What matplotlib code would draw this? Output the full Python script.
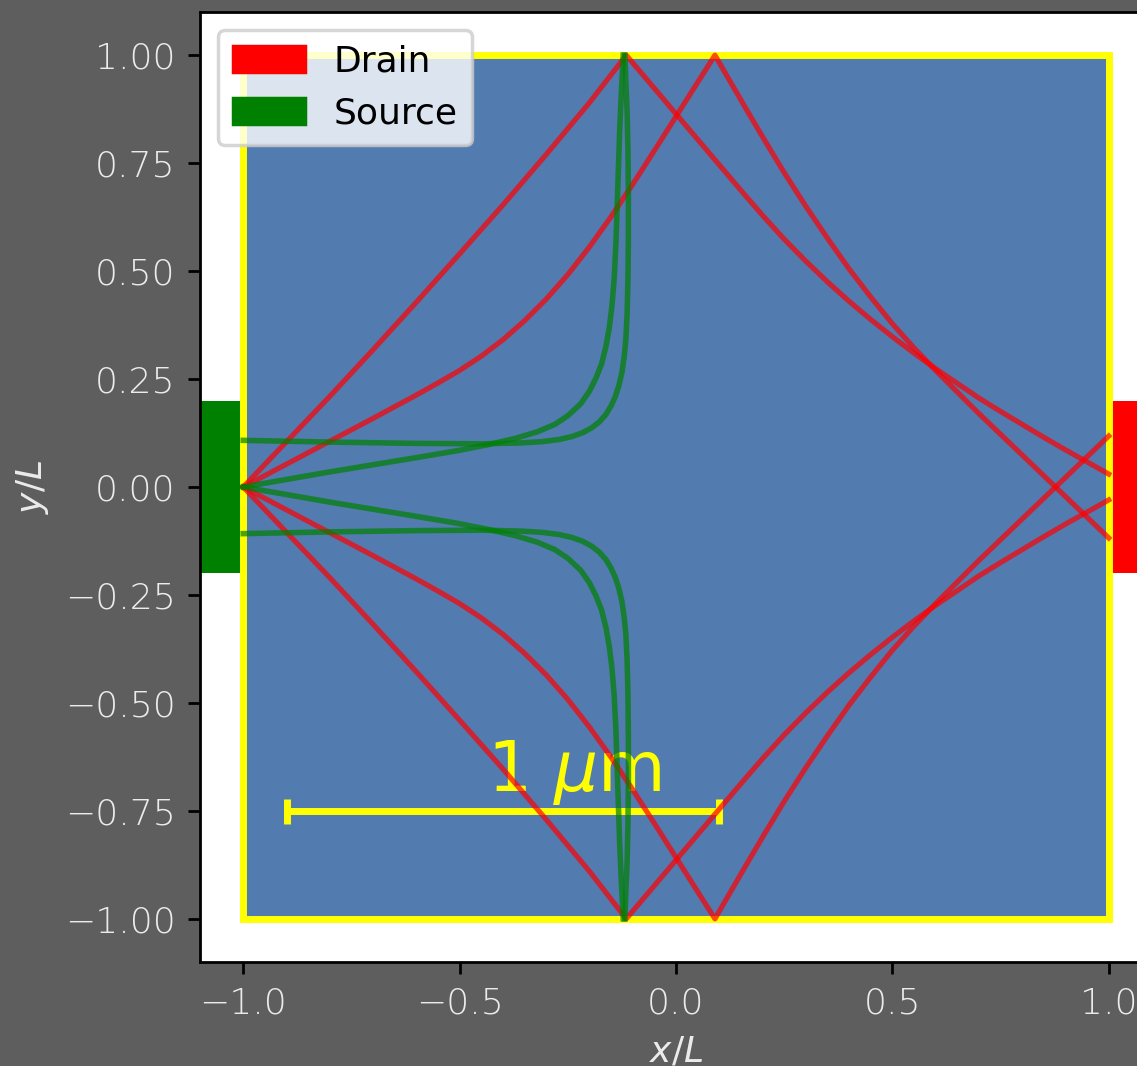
import matplotlib
matplotlib.use("Agg")
import matplotlib.pyplot as plt
from matplotlib.patches import Rectangle, Patch

# ---- trajectories (x/L, y/L) ----
# drain-side (red) orbit A: injected at (-1, 0), bounces once off the edge
red_a_up_x = [-1.0, -0.9, -0.8, -0.7, -0.6, -0.5, -0.4, -0.3, -0.2, -0.115,
              -0.06, 0.0, 0.05, 0.10, 0.15, 0.20, 0.25, 0.30, 0.35, 0.40, 0.45,
              0.50, 0.55, 0.60, 0.65, 0.70, 0.75, 0.80, 0.85, 0.90, 0.95, 1.0]
red_a_up_y = [0.0, 0.105, 0.21, 0.318, 0.428, 0.54, 0.653, 0.77, 0.89, 1.0,
              0.935, 0.864, 0.805, 0.746, 0.687, 0.629, 0.574, 0.523, 0.475, 0.430, 0.388,
              0.348, 0.310, 0.274, 0.240, 0.206, 0.175, 0.145, 0.115, 0.086, 0.058, 0.03]
red_a_lo_x = [-1.0, -0.9, -0.8, -0.7, -0.6, -0.5, -0.4, -0.3, -0.2, -0.115,
              -0.06, 0.0, 0.05, 0.10, 0.15, 0.20, 0.25, 0.30, 0.35, 0.40, 0.45,
              0.50, 0.55, 0.60, 0.65, 0.70, 0.75, 0.80, 0.85, 0.90, 0.95, 1.0]
red_a_lo_y = [0.0, -0.105, -0.21, -0.318, -0.428, -0.54, -0.653, -0.77, -0.89, -1.0,
              -0.935, -0.864, -0.805, -0.746, -0.687, -0.629, -0.574, -0.523, -0.475, -0.430, -0.388,
              -0.348, -0.310, -0.274, -0.240, -0.206, -0.175, -0.145, -0.115, -0.086, -0.058, -0.03]

# drain-side (red) orbit B
red_b_up_x = [-1.0, -0.9, -0.8, -0.7, -0.6, -0.55, -0.5, -0.45, -0.40, -0.35, -0.30,
              -0.25, -0.20, -0.15, -0.10, -0.05, 0.0, 0.05, 0.09,
              0.12, 0.16, 0.20, 0.25, 0.30, 0.35, 0.40, 0.45, 0.50, 0.55, 0.60,
              0.65, 0.70, 0.75, 0.80, 0.85, 0.90, 0.95, 1.0]
red_b_up_y = [0.0, 0.053, 0.106, 0.159, 0.213, 0.241, 0.270, 0.303, 0.341, 0.385, 0.435,
              0.492, 0.556, 0.626, 0.701, 0.779, 0.858, 0.937, 1.0,
              0.948, 0.879, 0.811, 0.728, 0.650, 0.576, 0.505, 0.440, 0.378, 0.322, 0.270,
              0.220, 0.170, 0.122, 0.074, 0.026, -0.022, -0.070, -0.118]
red_b_lo_x = [-1.0, -0.9, -0.8, -0.7, -0.6, -0.55, -0.5, -0.45, -0.40, -0.35, -0.30,
              -0.25, -0.20, -0.15, -0.10, -0.05, 0.0, 0.05, 0.09,
              0.12, 0.16, 0.20, 0.25, 0.30, 0.35, 0.40, 0.45, 0.50, 0.55, 0.60,
              0.65, 0.70, 0.75, 0.80, 0.85, 0.90, 0.95, 1.0]
red_b_lo_y = [0.0, -0.053, -0.106, -0.159, -0.213, -0.241, -0.270, -0.303, -0.341, -0.385, -0.435,
              -0.492, -0.556, -0.626, -0.701, -0.779, -0.858, -0.937, -1.0,
              -0.948, -0.879, -0.811, -0.728, -0.650, -0.576, -0.505, -0.440, -0.378, -0.322, -0.270,
              -0.220, -0.170, -0.122, -0.074, -0.026, 0.022, 0.070, 0.118]

# source-side (green) orbit A: leaves the contact near its edge
green_a_up_x = [-1.0, -0.8, -0.6, -0.45, -0.36, -0.31, -0.27, -0.24, -0.215, -0.195,
                -0.177, -0.162, -0.15, -0.14, -0.132, -0.125, -0.12, -0.116, -0.113,
                -0.111, -0.110, -0.110, -0.111, -0.113, -0.116, -0.118]
green_a_up_y = [0.108, 0.104, 0.101, 0.100, 0.102, 0.105, 0.110, 0.117, 0.126, 0.137,
                0.151, 0.168, 0.188, 0.21, 0.235, 0.265, 0.30, 0.34, 0.40,
                0.48, 0.58, 0.68, 0.78, 0.87, 0.94, 1.0]
green_a_lo_x = [-1.0, -0.8, -0.6, -0.45, -0.36, -0.31, -0.27, -0.24, -0.215, -0.195,
                -0.177, -0.162, -0.15, -0.14, -0.132, -0.125, -0.12, -0.116, -0.113,
                -0.111, -0.110, -0.110, -0.111, -0.113, -0.116, -0.118]
green_a_lo_y = [-0.108, -0.104, -0.101, -0.100, -0.102, -0.105, -0.110, -0.117, -0.126, -0.137,
                -0.151, -0.168, -0.188, -0.21, -0.235, -0.265, -0.30, -0.34, -0.40,
                -0.48, -0.58, -0.68, -0.78, -0.87, -0.94, -1.0]

# source-side (green) orbit B: leaves from the contact centre
green_b_up_x = [-1.0, -0.8, -0.6, -0.5, -0.43, -0.37, -0.32, -0.28, -0.25, -0.22, -0.20,
                -0.185, -0.172, -0.162, -0.154, -0.148, -0.143, -0.139, -0.136, -0.133,
                -0.130, -0.126, -0.122]
green_b_up_y = [0.0, 0.035, 0.068, 0.085, 0.099, 0.113, 0.128, 0.145, 0.165, 0.193, 0.222,
                0.252, 0.285, 0.325, 0.37, 0.42, 0.48, 0.56, 0.65, 0.74,
                0.83, 0.92, 1.0]
green_b_lo_x = [-1.0, -0.8, -0.6, -0.5, -0.43, -0.37, -0.32, -0.28, -0.25, -0.22, -0.20,
                -0.185, -0.172, -0.162, -0.154, -0.148, -0.143, -0.139, -0.136, -0.133,
                -0.130, -0.126, -0.122]
green_b_lo_y = [0.0, -0.035, -0.068, -0.085, -0.099, -0.113, -0.128, -0.145, -0.165, -0.193, -0.222,
                -0.252, -0.285, -0.325, -0.37, -0.42, -0.48, -0.56, -0.65, -0.74,
                -0.83, -0.92, -1.0]

red_paths = [(red_a_up_x, red_a_up_y), (red_b_up_x, red_b_up_y),
             (red_a_lo_x, red_a_lo_y), (red_b_lo_x, red_b_lo_y)]
green_paths = [(green_a_up_x, green_a_up_y), (green_b_up_x, green_b_up_y),
               (green_a_lo_x, green_a_lo_y), (green_b_lo_x, green_b_lo_y)]

legend_labels = ["Drain", "Source"]
scale_bar_length = 1.0
scale_bar_label = "1 $\\mu$m"

# ---- figure ----
DPI = 250
W, H = 1137, 1066
fig = plt.figure(figsize=(W / DPI, H / DPI), dpi=DPI, facecolor="#5e5e5e")
ax = fig.add_axes([200 / W, 104 / H, 952 / W, 950 / H])
ax.set_facecolor("white")
ax.set_xlim(-1.1, 1.1)
ax.set_ylim(-1.1, 1.1)

# contacts and device region
ax.add_patch(Rectangle((-1.1, -0.2), 0.1, 0.4, facecolor="green", edgecolor="none", zorder=1))
ax.add_patch(Rectangle((1.0, -0.2), 0.1, 0.4, facecolor="red", edgecolor="none", zorder=1))
ax.add_patch(Rectangle((-1.0, -1.0), 2.0, 2.0, facecolor="#527bb0", edgecolor="yellow",
                       linewidth=2, zorder=2))

# scale bar
ax.errorbar(-0.4, -0.75, xerr=scale_bar_length / 2, color="yellow", lw=2,
            capsize=3.6, capthick=2, zorder=2.5)
ax.text(-0.235, -0.703, scale_bar_label, color="yellow", fontsize=20,
        ha="center", va="baseline", zorder=2.5)

for px, py in red_paths:
    ax.plot(px, py, color="red", alpha=0.7, lw=1.5, zorder=3)
for px, py in green_paths:
    ax.plot(px, py, color="green", alpha=0.7, lw=1.6, zorder=3)

ax.legend(handles=[Patch(color="red"), Patch(color="green")], labels=legend_labels,
          loc="upper left", fontsize=10.4)

txt_col = "#ebebeb"
ax.set_xticks([-1.0, -0.5, 0.0, 0.5, 1.0])
ax.set_yticks([-1.0, -0.75, -0.5, -0.25, 0.0, 0.25, 0.5, 0.75, 1.0])
ax.tick_params(labelcolor=txt_col, labelsize=10.4)
for lbl in ax.get_xticklabels() + ax.get_yticklabels():
    lbl.set_fontweight("light")
ax.set_xlabel("$x/L$", color=txt_col, fontsize=10.4)
ax.set_ylabel("$y/L$", color=txt_col, fontsize=10.4)

fig.savefig("out.png", dpi=DPI, facecolor=fig.get_facecolor())
